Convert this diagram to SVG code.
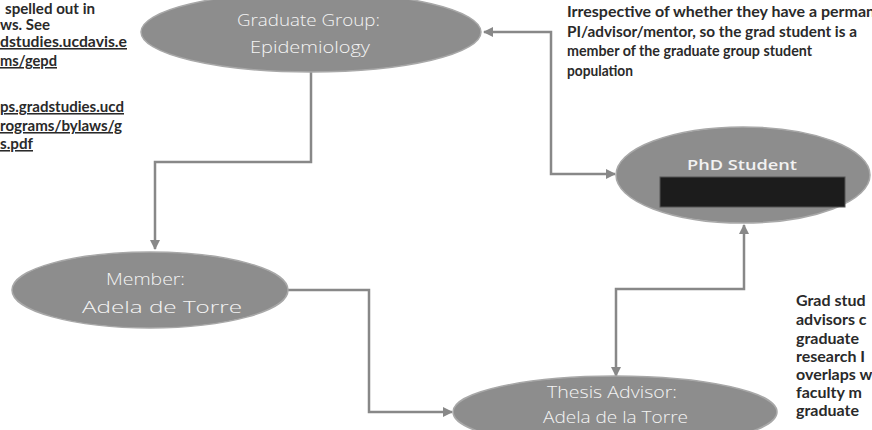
<svg xmlns="http://www.w3.org/2000/svg" width="872" height="430" viewBox="0 0 872 430">
<style>
.node{fill:#8d8d8d;stroke:#a8a8a8;stroke-width:1.5}
.nt{font-family:"Open Sans","Liberation Sans",sans-serif;font-size:16px;font-weight:300;fill:#f4f4f4}
.nb{font-family:"Open Sans","Liberation Sans",sans-serif;font-size:15px;font-weight:600;fill:#f2f2f2}
.conn{fill:none;stroke:#888888;stroke-width:2.5}
.note{font-family:Lato,"Liberation Sans",sans-serif;font-size:15.5px;font-weight:bold;fill:#2a2a2a}
.big{font-size:16px}
.link{text-decoration:underline}
</style>
<defs>
<marker id="arr" viewBox="0 0 10 10" refX="9" refY="5" markerWidth="4" markerHeight="4" orient="auto-start-reverse" markerUnits="strokeWidth">
<path d="M0,0 L10,5 L0,10 z" fill="#888888"/>
</marker>
</defs>
<rect width="872" height="430" fill="#ffffff"/>
<g id="connectors">
<path class="conn" d="M311,72 V162 H155 V249" marker-end="url(#arr)"/>
<path class="conn" d="M287,290 H369 V412 H452" marker-end="url(#arr)"/>
<path class="conn" d="M484,32 H551 V174 H615" marker-start="url(#arr)" marker-end="url(#arr)"/>
<path class="conn" d="M616,376 V289 H744 V225" marker-start="url(#arr)" marker-end="url(#arr)"/>
</g>
<g id="graduate-group">
<ellipse class="node" cx="311" cy="32" rx="170" ry="40"/>
<text class="nt" x="237" y="26" textLength="143" lengthAdjust="spacingAndGlyphs">Graduate Group:</text>
<text class="nt" x="250" y="53" textLength="120" lengthAdjust="spacingAndGlyphs">Epidemiology</text>
</g>
<g id="member">
<ellipse class="node" cx="150" cy="290" rx="138" ry="38"/>
<text class="nt" x="106" y="285" textLength="79" lengthAdjust="spacingAndGlyphs">Member:</text>
<text class="nt" x="82" y="313" textLength="160" lengthAdjust="spacingAndGlyphs">Adela de Torre</text>
</g>
<g id="thesis-advisor">
<ellipse class="node" cx="615" cy="412" rx="162" ry="36"/>
<text class="nt" x="547" y="398" textLength="130" lengthAdjust="spacingAndGlyphs">Thesis Advisor:</text>
<text class="nt" x="543" y="423" textLength="145" lengthAdjust="spacingAndGlyphs">Adela de la Torre</text>
</g>
<g id="phd-student">
<ellipse class="node" cx="743" cy="175" rx="127" ry="48"/>
<text class="nb" x="687" y="170" textLength="110" lengthAdjust="spacingAndGlyphs">PhD Student</text>
<rect x="660" y="177" width="185" height="30" fill="#1c1c1c" stroke="#555" stroke-width="1"/>
</g>
<g id="note-left">
<text class="note" x="5" y="13.5" textLength="90" lengthAdjust="spacingAndGlyphs">spelled out in</text>
<text class="note" x="0" y="30" textLength="50" lengthAdjust="spacingAndGlyphs">ws. See</text>
<text class="note link" x="0" y="47" textLength="127" lengthAdjust="spacingAndGlyphs">dstudies.ucdavis.e</text>
<text class="note link" x="0" y="66" textLength="57" lengthAdjust="spacingAndGlyphs">ms/gepd</text>
<text class="note link" x="0" y="112" textLength="124" lengthAdjust="spacingAndGlyphs">ps.gradstudies.ucd</text>
<text class="note link" x="0" y="131" textLength="122" lengthAdjust="spacingAndGlyphs">rograms/bylaws/g</text>
<text class="note link" x="0" y="149" textLength="33" lengthAdjust="spacingAndGlyphs">s.pdf</text>
</g>
<g id="note-top-right">
<text class="note" x="567" y="17" textLength="308" lengthAdjust="spacingAndGlyphs">Irrespective of whether they have a perman</text>
<text class="note" x="567" y="37" textLength="290" lengthAdjust="spacingAndGlyphs">PI/advisor/mentor, so the grad student is a</text>
<text class="note" x="567" y="56" textLength="245" lengthAdjust="spacingAndGlyphs">member of the graduate group student</text>
<text class="note" x="567" y="76" textLength="66" lengthAdjust="spacingAndGlyphs">population</text>
</g>
<g id="note-bottom-right">
<text class="note big" x="796" y="306">Grad stud</text>
<text class="note big" x="796" y="325">advisors c</text>
<text class="note big" x="796" y="344">graduate</text>
<text class="note big" x="796" y="362">research I</text>
<text class="note big" x="796" y="380">overlaps w</text>
<text class="note big" x="796" y="398">faculty m</text>
<text class="note big" x="796" y="416">graduate</text>
</g>
</svg>
